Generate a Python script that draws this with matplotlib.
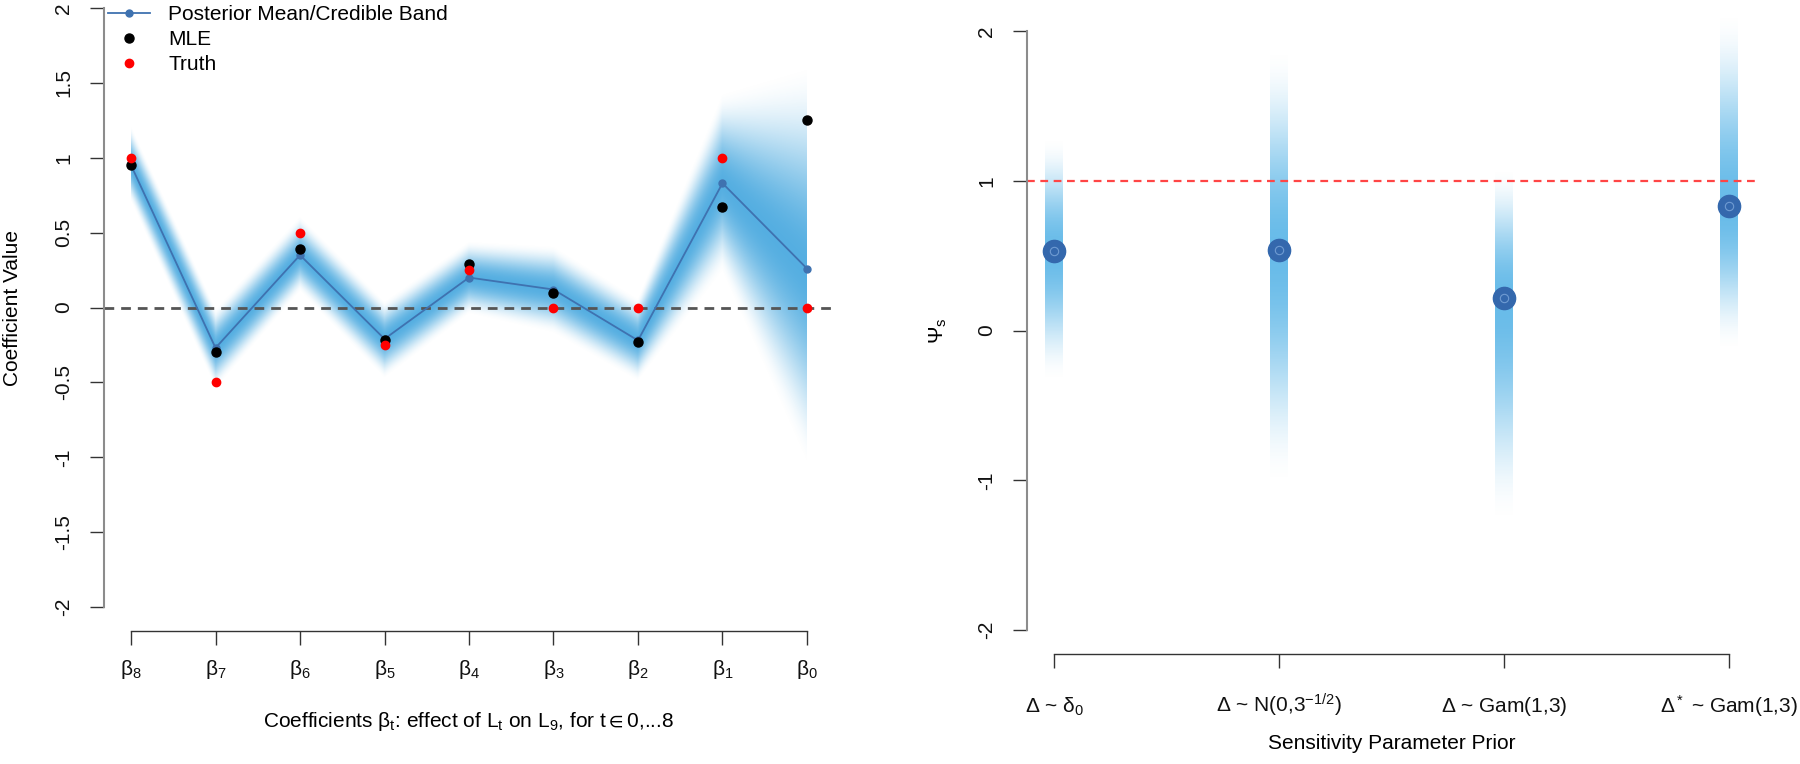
import numpy as np
import matplotlib
matplotlib.use("Agg")
import matplotlib.pyplot as plt
from matplotlib.lines import Line2D

plt.rcParams["font.family"] = ["Liberation Sans", "DejaVu Sans"]
plt.rcParams["mathtext.fontset"] = "custom"
plt.rcParams["mathtext.rm"] = "Liberation Sans"
plt.rcParams["mathtext.it"] = "Liberation Sans"
plt.rcParams["mathtext.fallback"] = "stixsans"
plt.rcParams["axes.unicode_minus"] = False

# left panel: coefficients beta_8 .. beta_0
coef_labels = [r"$\beta_8$", r"$\beta_7$", r"$\beta_6$", r"$\beta_5$", r"$\beta_4$",
               r"$\beta_3$", r"$\beta_2$", r"$\beta_1$", r"$\beta_0$"]
post_mean = [0.95, -0.27, 0.35, -0.21, 0.20, 0.12, -0.22, 0.83, 0.26]
band_upper = [1.22, 0.00, 0.62, 0.05, 0.45, 0.42, 0.07, 1.45, 1.65]
band_lower = [0.70, -0.55, 0.10, -0.48, -0.05, -0.18, -0.50, 0.22, -1.08]
mle = [0.95, -0.30, 0.39, -0.22, 0.29, 0.10, -0.23, 0.67, 1.25]
truth = [1.0, -0.5, 0.5, -0.25, 0.25, 0.0, 0.0, 1.0, 0.0]
coef_yticks = [2, 1.5, 1, 0.5, 0, -0.5, -1, -1.5, -2]
coef_yticklabels = ["2", "1.5", "1", "0.5", "0", "-0.5", "-1", "-1.5", "-2"]

# right panel: sensitivity parameter priors
prior_labels = [r"$\Delta$ ~ $\delta_0$", r"$\Delta$ ~ N(0,3$^{-1/2}$)",
                r"$\Delta$ ~ Gam(1,3)", r"$\Delta^*$ ~ Gam(1,3)"]
psi_mean = [0.53, 0.54, 0.22, 0.83]
psi_upper = [1.30, 1.90, 1.10, 2.15]
psi_lower = [-0.35, -1.05, -1.30, -0.15]
psi_yticks = [2, 1, 0, -1, -2]

BAND = (0.24, 0.64, 0.87)
BAR = (0.30, 0.69, 0.90)
LINE = "#3f72b0"
FS = 15
W, H = 1800, 764
YLIM = (-2.16, 2.16)


def band_alpha(y, mu, up, lo):
    # smooth fade from the mean down to zero at the visible band edge
    ext = np.where(y >= mu, up - mu, mu - lo)
    d = np.clip(np.abs(y - mu) / ext, 0, 1)
    return (1 - d ** 2) ** 2.2


def r_style(ax, xb, yb):
    for s in ["top", "right"]:
        ax.spines[s].set_visible(False)
    ax.spines["left"].set_color("#8c8c8c")
    ax.spines["left"].set_linewidth(1.5)
    ax.spines["bottom"].set_color("#333333")
    ax.spines["bottom"].set_linewidth(1.0)
    ax.spines["left"].set_bounds(*yb)
    ax.spines["bottom"].set_bounds(*xb)
    ax.tick_params(length=10, width=1.0, color="#333333", labelsize=FS,
                   labelcolor="#111111")
    ax.tick_params(axis="y", pad=12)
    ax.set_ylim(*YLIM)


fig = plt.figure(figsize=(W / 100, H / 100), dpi=100)

# ---- left panel
ax1 = fig.add_axes([104 / W, 1 - 631 / H, 730 / W, 647 / H])
xs = np.arange(len(post_mean))
xg = np.linspace(xs[0], xs[-1], 1400)
yg = np.linspace(YLIM[0], YLIM[1], 900)
mu = np.interp(xg, xs, post_mean)
up = np.interp(xg, xs, band_upper)
lo = np.interp(xg, xs, band_lower)
a = band_alpha(yg[:, None], mu[None, :], up[None, :], lo[None, :])
img = np.zeros((len(yg), len(xg), 4))
img[..., :3] = BAND
img[..., 3] = 0.88 * a
ax1.imshow(img, extent=(xs[0], xs[-1], YLIM[0], YLIM[1]), origin="lower",
           aspect="auto", interpolation="bilinear", zorder=1)

ax1.axhline(0, color="#555555", lw=2.0, ls=(0, (3.5, 2.5)), zorder=2)
ax1.plot(xs, post_mean, color=LINE, lw=1.3, marker="o", ms=5, zorder=3)
ax1.plot(xs, mle, "o", color="black", ms=6.5, zorder=4)
ax1.plot(xs, truth, "o", color="#ff0000", ms=6, zorder=5)

ax1.set_xlim(-0.32, 8.32)
r_style(ax1, (0, 8), (-2, 2))
ax1.set_xticks(xs, coef_labels)
ax1.set_yticks(coef_yticks, coef_yticklabels, rotation=90, va="center")
for t in ax1.get_xticklabels():
    t.set_va("baseline")
ax1.tick_params(axis="x", pad=22)
ax1.set_xlabel(r"Coefficients $\beta_t$: effect of L$_t$ on L$_9$, for t$\in$0,...8",
               fontsize=FS)
ax1.xaxis.set_label_coords(0.5, -0.122)
ax1.set_ylabel("Coefficient Value", fontsize=FS)
ax1.yaxis.set_label_coords(-0.112, 0.5)

handles = [
    Line2D([], [], color=LINE, lw=1.3, marker="o", ms=5),
    Line2D([], [], ls="none", marker="o", color="black", ms=6.5),
    Line2D([], [], ls="none", marker="o", color="#ff0000", ms=6),
]
fig.legend(handles, ["Posterior Mean/Credible Band", "MLE", "Truth"],
           loc="upper left", bbox_to_anchor=(108 / W, 1.0 - 5 / H),
           frameon=False, fontsize=FS, borderpad=0, borderaxespad=0,
           handlelength=2.0, handletextpad=0.9, labelspacing=0.3)

# ---- right panel
ax2 = fig.add_axes([1027 / W, 1 - 654 / H, 729 / W, 647 / H])
px = np.arange(1, len(psi_mean) + 1)
hw = 0.038
for x, m, u, l in zip(px, psi_mean, psi_upper, psi_lower):
    a = band_alpha(yg, m, u, l)
    bar = np.zeros((len(yg), 1, 4))
    bar[..., :3] = BAR
    bar[:, 0, 3] = 0.85 * a
    ax2.imshow(bar, extent=(x - hw, x + hw, YLIM[0], YLIM[1]), origin="lower",
               aspect="auto", interpolation="bilinear", zorder=1)

ax2.axhline(1, color="#ff4545", lw=1.6, ls=(0, (3.5, 2.5)), zorder=2)
ax2.plot(px, psi_mean, "o", color="#3468ad", ms=16, mec="#3468ad", zorder=3)
ax2.plot(px, psi_mean, "o", mfc="none", mec="#6f9bd2", mew=0.8, ms=6, zorder=4)

ax2.set_xlim(0.88, 4.12)
r_style(ax2, (1, 4), (-2, 2))
ax2.set_xticks(px, prior_labels)
ax2.set_yticks(psi_yticks, [str(v) for v in psi_yticks], rotation=90, va="center")
for t in ax2.get_xticklabels():
    t.set_va("baseline")
ax2.tick_params(axis="x", pad=32)
ax2.set_xlabel("Sensitivity Parameter Prior", fontsize=FS)
ax2.xaxis.set_label_coords(0.5, -0.124)
ax2.set_ylabel(r"$\Psi_s$", fontsize=FS)
ax2.yaxis.set_label_coords(-0.107, 0.5)

fig.savefig("out.png", dpi=100)
